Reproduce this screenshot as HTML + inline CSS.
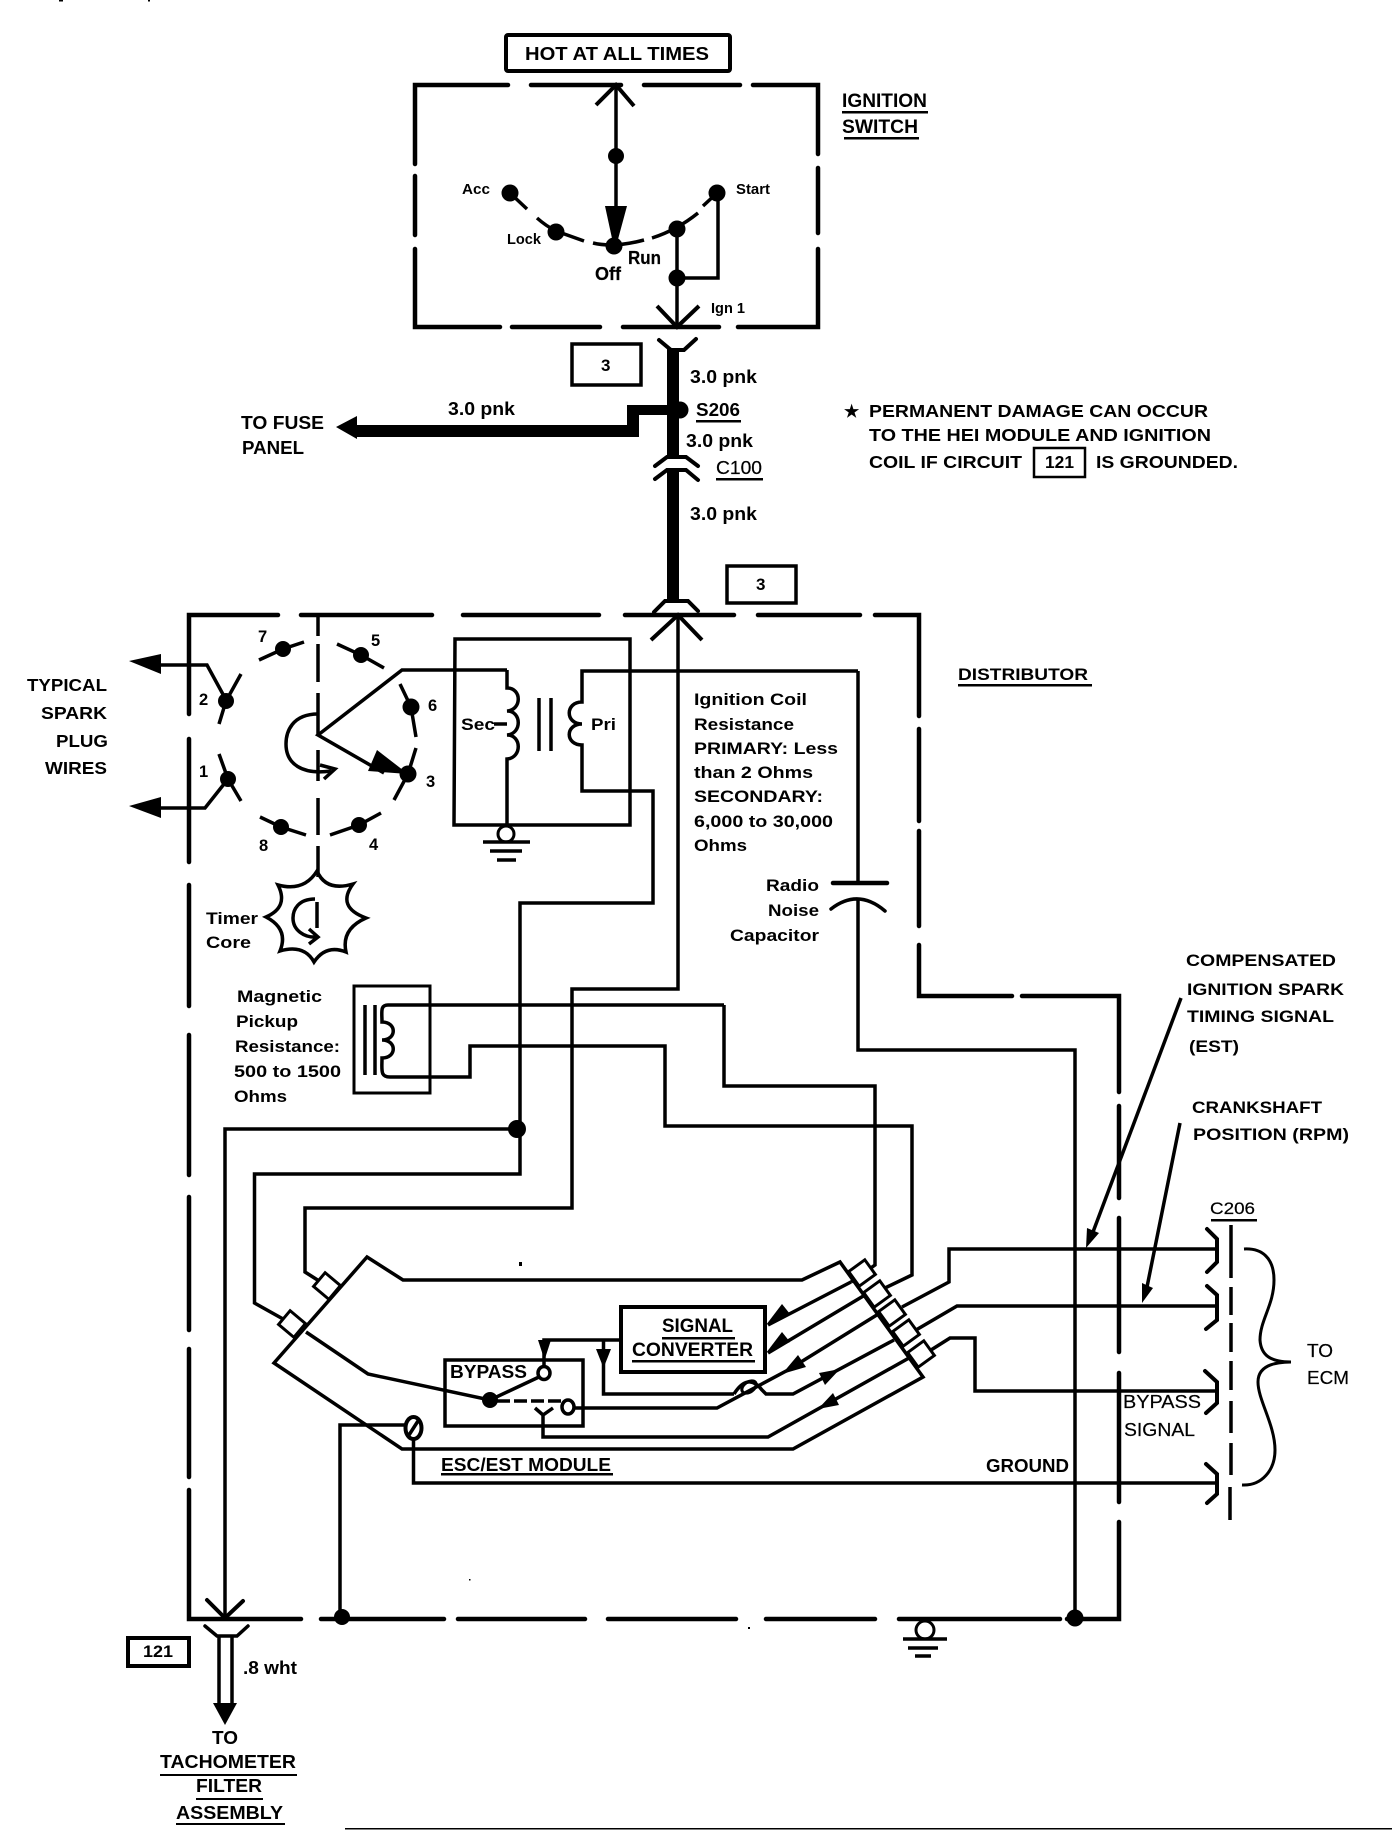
<!DOCTYPE html>
<html><head><meta charset="utf-8"><style>
html,body{margin:0;padding:0;background:#fff;width:1392px;height:1830px;overflow:hidden}
svg{display:block}
text{font-family:"Liberation Sans",sans-serif;font-weight:bold;fill:#000;font-size:17px}
.w{fill:none;stroke:#000;stroke-width:3.5;stroke-linejoin:miter}
.b{fill:none;stroke:#000;stroke-width:4.5;stroke-linecap:round}
.f{fill:#000;stroke:none}
</style></head><body>
<svg width="1392" height="1830" viewBox="0 0 1392 1830" xmlns="http://www.w3.org/2000/svg">
<rect width="1392" height="1830" fill="#fff"/>

<!-- Top -->
<rect x="506" y="35" width="224" height="36" rx="2" fill="none" stroke="#000" stroke-width="4"/>
<text x="525" y="60" textLength="184" lengthAdjust="spacingAndGlyphs" style="font-size:18.5px">HOT AT ALL TIMES</text>

<!-- Ignition switch box -->
<path class="b" d="M508 85H415V164M415 176V235M415 249V327H500M512 327H600M623 327H719M738 327H818V249M818 233V168M818 154V85H753M740 85H644M621 85H531"/>
<path class="w" style="stroke-width:4" d="M596 105L616 85L634 106"/>
<path class="w" d="M616 85V240"/>
<circle cx="616" cy="156" r="8" class="f"/>
<path class="f" d="M605 206H627L617 243H613Z"/>
<circle cx="614" cy="246" r="8.5" class="f"/>
<circle cx="510" cy="193" r="8.5" class="f"/>
<circle cx="556" cy="232" r="8.5" class="f"/>
<circle cx="677" cy="229" r="8.5" class="f"/>
<circle cx="717" cy="193" r="8.5" class="f"/>
<circle cx="677" cy="278" r="8.5" class="f"/>
<path class="w" d="M510 193L527 209M537 218Q546 226 556 231L584 241M593 243Q614 248 644 240M652 238Q677 230 698 213M703 206L717 193"/>
<path class="w" d="M677 229V327M677 278H718V198"/>
<path class="w" style="stroke-width:4" d="M657 306L677 327L699 306"/>
<text x="462" y="194" textLength="28" lengthAdjust="spacingAndGlyphs" style="font-size:14.5px">Acc</text>
<text x="736" y="194" textLength="34" lengthAdjust="spacingAndGlyphs" style="font-size:14.5px">Start</text>
<text x="507" y="244" textLength="34" lengthAdjust="spacingAndGlyphs" style="font-size:14.5px">Lock</text>
<text x="628" y="264" textLength="33" lengthAdjust="spacingAndGlyphs" style="font-size:18px;stroke:#000;stroke-width:.2">Run</text>
<text x="595" y="280" textLength="26" lengthAdjust="spacingAndGlyphs" style="font-size:18px;stroke:#000;stroke-width:.2">Off</text>
<text x="711" y="313" textLength="34" lengthAdjust="spacingAndGlyphs" style="font-size:14.5px">Ign 1</text>
<text x="842" y="107" textLength="85" lengthAdjust="spacingAndGlyphs" style="font-size:19px">IGNITION</text>
<rect x="842" y="111" width="86" height="2.5" class="f"/>
<text x="842" y="133" textLength="76" lengthAdjust="spacingAndGlyphs" style="font-size:19px">SWITCH</text>
<rect x="844" y="137" width="75" height="2.5" class="f"/>

<!-- Thick feed -->
<path class="w" style="stroke-width:4;stroke-linecap:round" d="M659 340L671 350H684L696 339M655 466L667 457H686L698 466M655 479L667 470H686L698 480M654 612L665 601H688L698 611"/>
<rect x="667" y="349" width="12" height="108" class="f"/>
<rect x="667" y="470" width="12" height="131" class="f"/>
<circle cx="680" cy="410" r="8.5" class="f"/>
<path class="f" d="M672 405V415H639V437H357V425H627V405Z"/>
<path class="f" d="M336 427L357 416V439Z"/>
<rect x="572" y="344" width="69" height="41" fill="none" stroke="#000" stroke-width="3.5"/>
<text x="601" y="371" style="font-size:17px">3</text>
<rect x="727" y="566" width="69" height="37" fill="none" stroke="#000" stroke-width="3.5"/>
<text x="756" y="590" style="font-size:17px">3</text>
<text x="690" y="383" textLength="67" lengthAdjust="spacingAndGlyphs" style="font-size:18px">3.0 pnk</text>
<text x="448" y="415" textLength="67" lengthAdjust="spacingAndGlyphs" style="font-size:18px">3.0 pnk</text>
<text x="686" y="447" textLength="67" lengthAdjust="spacingAndGlyphs" style="font-size:18px">3.0 pnk</text>
<text x="690" y="520" textLength="67" lengthAdjust="spacingAndGlyphs" style="font-size:18px">3.0 pnk</text>
<text x="696" y="416" textLength="44" lengthAdjust="spacingAndGlyphs" style="font-size:18px">S206</text>
<rect x="696" y="420" width="45" height="2.5" class="f"/>
<text x="716" y="474" textLength="46" lengthAdjust="spacingAndGlyphs" style="font-size:18px;stroke:#000;stroke-width:.2;font-weight:normal">C100</text>
<rect x="716" y="478" width="47" height="2.5" class="f"/>
<text x="241" y="429" textLength="83" lengthAdjust="spacingAndGlyphs" style="font-size:18px">TO FUSE</text>
<text x="242" y="454" textLength="62" lengthAdjust="spacingAndGlyphs" style="font-size:18px">PANEL</text>

<!-- Note -->
<text x="844" y="417" style="font-size:17px">★</text>
<text x="869" y="417" textLength="339" lengthAdjust="spacingAndGlyphs" style="font-size:17.5px">PERMANENT DAMAGE CAN OCCUR</text>
<text x="869" y="441" textLength="342" lengthAdjust="spacingAndGlyphs" style="font-size:17.5px">TO THE HEI MODULE AND IGNITION</text>
<text x="869" y="468" textLength="153" lengthAdjust="spacingAndGlyphs" style="font-size:17.5px">COIL IF CIRCUIT</text>
<rect x="1034" y="448" width="51" height="29" fill="none" stroke="#000" stroke-width="2.5"/>
<text x="1045" y="468" textLength="29" lengthAdjust="spacingAndGlyphs" style="font-size:17.5px">121</text>
<text x="1096" y="468" textLength="142" lengthAdjust="spacingAndGlyphs" style="font-size:17.5px">IS GROUNDED.</text>

<!-- Distributor box -->
<path class="b" d="M278 615H189V714M189 739V862M189 885V1006M189 1035V1175M189 1197V1330M189 1349V1477M189 1490V1619H301M321 1619H444M458 1619H585M608 1619H736M766 1619H875M899 1619H1060M1067 1619H1119V1522M1119 1502V1373M1119 1352V1218M1119 1198V1106M1119 1092V996H1022M1012 996H919V945M919 926V831M919 821V729M919 716V615H875M860 615H758M734 615H625M599 615H463M432 615H301"/>
<text x="958" y="680" textLength="130" lengthAdjust="spacingAndGlyphs" style="font-size:17px">DISTRIBUTOR</text>
<rect x="958" y="684" width="134" height="2.5" class="f"/>

<!-- Spark plugs -->
<path class="f" d="M129 661L161 654V674Z"/>
<path class="f" d="M129 806L161 797V818Z"/>
<path class="w" d="M155 665H207L225 698M155 808H205L228 779"/>
<path class="w" d="M241 674L226 701L219 724M219 754L228 779L241 801"/>
<circle cx="226" cy="701" r="8" class="f"/>
<circle cx="228" cy="779" r="8" class="f"/>
<text x="199" y="705" style="font-size:16.5px">2</text>
<text x="199" y="777" style="font-size:16.5px">1</text>
<text x="27" y="691" textLength="80" lengthAdjust="spacingAndGlyphs" style="font-size:17.5px">TYPICAL</text>
<text x="41" y="719" textLength="66" lengthAdjust="spacingAndGlyphs" style="font-size:17.5px">SPARK</text>
<text x="56" y="747" textLength="52" lengthAdjust="spacingAndGlyphs" style="font-size:17.5px">PLUG</text>
<text x="45" y="774" textLength="62" lengthAdjust="spacingAndGlyphs" style="font-size:17.5px">WIRES</text>

<!-- Rotor -->
<path class="w" d="M318 615V636M318 644V682M318 693V735M318 750V781M318 798V835M318 846V877"/>
<path class="w" d="M507 670H402L318 735L384 773"/>
<path class="f" d="M408 774L377 750L368 771Z"/>
<path class="w" d="M318 714C292 714 286 732 286 744C286 764 302 775 331 771M320 765L335 769L324 779"/>
<circle cx="408" cy="774" r="8.5" class="f"/>
<circle cx="411" cy="707" r="8.5" class="f"/>
<circle cx="361" cy="655" r="8" class="f"/>
<circle cx="283" cy="649" r="8" class="f"/>
<circle cx="281" cy="827" r="8" class="f"/>
<circle cx="359" cy="825" r="8" class="f"/>
<path class="w" d="M416 748L408 774L394 800M400 684L411 707L416 737M337 644L361 655L384 668M304 642L283 649L259 660M260 817L281 827L306 835M330 835L359 825L381 813"/>
<text x="426" y="787" style="font-size:16.5px">3</text>
<text x="428" y="711" style="font-size:16.5px">6</text>
<text x="371" y="646" style="font-size:16.5px">5</text>
<text x="258" y="642" style="font-size:16.5px">7</text>
<text x="259" y="851" style="font-size:16.5px">8</text>
<text x="369" y="850" style="font-size:16.5px">4</text>

<!-- Timer core -->
<path class="w" d="M317 871Q326 892 353 884Q336 907 366 918Q341 929 346 952Q326 944 314 962Q304 944 280 951Q289 929 266 917Q289 907 278 885Q304 892 317 871Z"/>
<path class="w" d="M317 902V928"/>
<path class="w" d="M315 899C298 899 293 910 293 918C293 930 304 938 317 937M309 929L318 937L309 944"/>
<text x="206" y="924" textLength="52" lengthAdjust="spacingAndGlyphs">Timer</text>
<text x="206" y="948" textLength="45" lengthAdjust="spacingAndGlyphs">Core</text>

<!-- Coil -->
<path class="w" d="M455 639H630V825H454Z"/>
<path class="w" d="M507 670V688C522 688 522 710 507 711C522 711 522 734 507 735C522 735 522 758 507 759V825M494 724H507"/>
<path class="w" d="M539 698V751M551 698V751"/>
<path class="w" d="M858 671H582V702C565 702 565 724 582 724C565 724 565 745 582 745V791H653V903H520V1174H254.500V1303L292 1324"/>
<circle cx="506" cy="834" r="8" fill="#fff" stroke="#000" stroke-width="3"/>
<path class="w" d="M483 842H530M490 851H522M497 860H516"/>
<text x="461" y="730" textLength="34" lengthAdjust="spacingAndGlyphs">Sec</text>
<text x="591" y="730" textLength="25" lengthAdjust="spacingAndGlyphs">Pri</text>

<!-- Coil text -->
<text x="694" y="705" textLength="113" lengthAdjust="spacingAndGlyphs">Ignition Coil</text>
<text x="694" y="730" textLength="100" lengthAdjust="spacingAndGlyphs">Resistance</text>
<text x="694" y="754" textLength="144" lengthAdjust="spacingAndGlyphs">PRIMARY: Less</text>
<text x="694" y="778" textLength="119" lengthAdjust="spacingAndGlyphs">than 2 Ohms</text>
<text x="694" y="802" textLength="129" lengthAdjust="spacingAndGlyphs">SECONDARY:</text>
<text x="694" y="827" textLength="139" lengthAdjust="spacingAndGlyphs">6,000 to 30,000</text>
<text x="694" y="851" textLength="53" lengthAdjust="spacingAndGlyphs">Ohms</text>
<text x="766" y="891" textLength="53" lengthAdjust="spacingAndGlyphs">Radio</text>
<text x="768" y="916" textLength="51" lengthAdjust="spacingAndGlyphs">Noise</text>
<text x="730" y="941" textLength="89" lengthAdjust="spacingAndGlyphs">Capacitor</text>

<!-- Capacitor -->
<path class="w" d="M858 671V883"/>
<path class="b" d="M833 883H887"/>
<path class="w" style="stroke-linecap:round" d="M831 909Q858 888 885 911"/>
<path class="w" d="M858 899V1050H1075V1619"/>
<circle cx="1075" cy="1618" r="8.500" class="f"/>

<!-- Main feed into distributor -->
<path class="w" style="stroke-width:4" d="M651 640L678 615L702 640"/>
<path class="w" d="M678 615V989H572V1208H305V1272L327 1286"/>
<circle cx="517" cy="1129" r="9" class="f"/>
<path class="w" d="M225 1618V1129H517"/>
<path class="w" style="stroke-width:4;stroke-linecap:round" d="M207 1600L225 1618L243 1601"/>

<!-- Pickup -->
<rect x="354" y="986" width="76" height="107" fill="none" stroke="#000" stroke-width="3"/>
<path class="w" d="M365 1005V1075M375 1005V1075"/>
<path class="w" d="M724 1005H388C380 1005 382 1012 382 1022C397 1022 397 1040 382 1040C397 1040 397 1058 382 1058C382 1070 380 1077 390 1077H470V1046H665V1126H912V1275L885 1288"/>
<path class="w" d="M724 1005V1086H875V1265L851 1282"/>
<text x="237" y="1002" textLength="85" lengthAdjust="spacingAndGlyphs">Magnetic</text>
<text x="236" y="1027" textLength="62" lengthAdjust="spacingAndGlyphs">Pickup</text>
<text x="235" y="1052" textLength="105" lengthAdjust="spacingAndGlyphs">Resistance:</text>
<text x="234" y="1077" textLength="107" lengthAdjust="spacingAndGlyphs">500 to 1500</text>
<text x="234" y="1102" textLength="53" lengthAdjust="spacingAndGlyphs">Ohms</text>

<!-- Module -->
<path class="w" d="M367 1257L403 1280H802L840 1262L923 1377L793 1449H402L274 1363Z"/>
<g fill="#fff" stroke="#000" stroke-width="3">
<rect x="-10" y="-9" width="20" height="18" transform="translate(327 1286) rotate(40)"/>
<rect x="-10" y="-9" width="20" height="18" transform="translate(292 1324) rotate(40)"/>
<rect x="-10" y="-9" width="20" height="18" transform="translate(862 1273) rotate(-36)"/>
<rect x="-10" y="-9" width="20" height="18" transform="translate(877 1294) rotate(-36)"/>
<rect x="-10" y="-9" width="20" height="18" transform="translate(892 1313) rotate(-36)"/>
<rect x="-10" y="-9" width="20" height="18" transform="translate(906 1333) rotate(-36)"/>
<rect x="-10" y="-9" width="20" height="18" transform="translate(921 1354) rotate(-36)"/>
</g>
<path class="w" d="M851 1282L768 1325M865 1295L768 1353"/>
<path class="f" d="M766 1325L782 1304L790 1314Z"/>
<path class="f" d="M766 1353L782 1332L790 1342Z"/>

<!-- Outer wires -->
<path class="w" d="M902 1307L949 1282V1249H1217"/>
<path class="w" d="M916 1330L957 1306H1217"/>
<path class="w" d="M931 1350L950 1338H975V1391H1217"/>
<path class="w" d="M413.500 1440V1483H1217"/>
<path class="w" d="M413 1425H340V1619"/>
<circle cx="342" cy="1617" r="8" class="f"/>

<!-- Signal converter -->
<rect x="621" y="1307" width="144" height="65" fill="#fff" stroke="#000" stroke-width="4"/>
<text x="662" y="1332" textLength="71" lengthAdjust="spacingAndGlyphs" style="font-size:19px">SIGNAL</text>
<rect x="662" y="1337" width="73" height="2.500" class="f"/>
<text x="632" y="1356" textLength="121" lengthAdjust="spacingAndGlyphs" style="font-size:19px">CONVERTER</text>
<rect x="632" y="1360" width="123" height="2.500" class="f"/>

<!-- Bypass -->
<rect x="445" y="1360" width="138" height="66" fill="none" stroke="#000" stroke-width="3.500"/>
<text x="450" y="1378" textLength="77" lengthAdjust="spacingAndGlyphs" style="font-size:18px">BYPASS</text>
<path class="w" d="M620 1340H544V1367"/>
<path class="f" d="M538 1340H551L544.500 1360Z"/>
<path class="w" d="M603.500 1340V1394H734"/>
<path class="f" d="M596 1349H611L603.500 1368Z"/>
<path class="w" d="M734 1394Q748 1372 762 1390L766 1394H793L894 1340"/>
<path class="w" d="M880 1313L788 1370L717 1408H575"/>
<ellipse cx="749" cy="1387" rx="8" ry="5" fill="none" stroke="#000" stroke-width="3" transform="rotate(-35 749 1387)"/>
<path class="f" d="M782 1374L798 1355L806 1367Z"/>
<path class="f" d="M840 1369L819 1373L825 1385Z"/>
<path class="w" d="M909 1358L768 1437H543V1415M535 1408L543 1415L553 1408"/>
<path class="f" d="M818 1409L833 1393L839 1405Z"/>
<path class="w" d="M306 1332L368 1374L490 1400"/>
<circle cx="490" cy="1400" r="8" class="f"/>
<path class="w" d="M490 1400L539 1377"/>
<ellipse cx="544" cy="1373" rx="6" ry="6.500" fill="#fff" stroke="#000" stroke-width="3.500"/>
<ellipse cx="568" cy="1407" rx="6" ry="7" fill="#fff" stroke="#000" stroke-width="3.500"/>
<path class="w" stroke-dasharray="13 4" d="M497 1401H561"/>

<!-- Ground screw -->
<ellipse cx="413.500" cy="1428" rx="8" ry="11" fill="#fff" stroke="#000" stroke-width="4"/>
<path class="w" d="M409 1435L418 1421"/>
<text x="441" y="1471" textLength="170" lengthAdjust="spacingAndGlyphs" style="font-size:18px">ESC/EST MODULE</text>
<rect x="441" y="1473" width="172" height="2.500" class="f"/>

<!-- Bottom ground symbol -->
<circle cx="925" cy="1630" r="9" fill="#fff" stroke="#000" stroke-width="3"/>
<path class="w" d="M903 1639H947M908 1648H938M915 1656H931"/>

<!-- Right side -->
<path class="w" d="M1181 998L1090 1240"/>
<path class="f" d="M1086 1248L1087 1228L1099 1233Z"/>
<path class="w" d="M1180 1123L1146 1292"/>
<path class="f" d="M1142 1303L1142 1283L1153 1288Z"/>
<text x="1186" y="966" textLength="150" lengthAdjust="spacingAndGlyphs">COMPENSATED</text>
<text x="1187" y="995" textLength="157" lengthAdjust="spacingAndGlyphs">IGNITION SPARK</text>
<text x="1187" y="1022" textLength="147" lengthAdjust="spacingAndGlyphs">TIMING SIGNAL</text>
<text x="1189" y="1052" textLength="50" lengthAdjust="spacingAndGlyphs">(EST)</text>
<text x="1192" y="1113" textLength="130" lengthAdjust="spacingAndGlyphs">CRANKSHAFT</text>
<text x="1193" y="1140" textLength="156" lengthAdjust="spacingAndGlyphs">POSITION (RPM)</text>
<text x="1210" y="1214" textLength="45" lengthAdjust="spacingAndGlyphs" style="font-size:17px;font-weight:normal;stroke:#000;stroke-width:.2">C206</text>
<rect x="1211" y="1219" width="46" height="2.500" class="f"/>
<path class="w" style="stroke-width:4;stroke-linecap:round" d="M1207 1229L1217 1239V1262L1207 1272M1207 1286L1217 1295V1320L1206 1329M1205 1371L1217 1382V1403L1206 1413M1206 1464L1217 1474V1494L1207 1503"/>
<path class="w" d="M1231 1225V1278M1231 1287V1315M1231 1323V1352M1231 1361V1390M1231 1401V1433M1231 1443V1475M1230 1487V1520"/>
<path class="w" style="stroke-width:3" d="M1244 1249C1262 1248 1274 1258 1274 1280C1274 1305 1260 1320 1260 1340C1261 1355 1270 1362 1291 1362M1291 1362C1270 1362 1258 1368 1258 1382C1258 1400 1275 1425 1275 1450C1275 1470 1262 1486 1242 1485"/>
<text x="1307" y="1357" textLength="26" lengthAdjust="spacingAndGlyphs" style="font-size:18px;font-weight:normal;stroke:#000;stroke-width:.2">TO</text>
<text x="1307" y="1384" textLength="42" lengthAdjust="spacingAndGlyphs" style="font-size:18px;font-weight:normal;stroke:#000;stroke-width:.2">ECM</text>
<text x="1123" y="1408" textLength="78" lengthAdjust="spacingAndGlyphs" style="font-size:18px;font-weight:normal;stroke:#000;stroke-width:.2">BYPASS</text>
<text x="1124" y="1436" textLength="71" lengthAdjust="spacingAndGlyphs" style="font-size:18px;font-weight:normal;stroke:#000;stroke-width:.2">SIGNAL</text>
<text x="986" y="1472" textLength="83" lengthAdjust="spacingAndGlyphs" style="font-size:18px">GROUND</text>

<!-- Bottom left -->
<rect x="128" y="1638" width="61" height="28" fill="none" stroke="#000" stroke-width="4"/>
<text x="143" y="1657" textLength="30" lengthAdjust="spacingAndGlyphs">121</text>
<path class="w" style="stroke-linecap:round" d="M205 1626L217 1636H237L248 1626"/>
<path class="w" d="M219 1636V1705M232 1636V1705"/>
<path class="f" d="M213 1703H237L225 1725Z"/>
<text x="243" y="1674" textLength="54" lengthAdjust="spacingAndGlyphs" style="font-size:18px">.8 wht</text>
<text x="212" y="1744" textLength="26" lengthAdjust="spacingAndGlyphs" style="font-size:18px">TO</text>
<text x="160" y="1768" textLength="136" lengthAdjust="spacingAndGlyphs" style="font-size:18px">TACHOMETER</text>
<rect x="160" y="1774" width="137" height="2" class="f"/>
<text x="196" y="1792" textLength="66" lengthAdjust="spacingAndGlyphs" style="font-size:18px">FILTER</text>
<rect x="196" y="1798" width="67" height="2" class="f"/>
<text x="176" y="1819" textLength="107" lengthAdjust="spacingAndGlyphs" style="font-size:18px">ASSEMBLY</text>
<rect x="176" y="1823" width="109" height="2" class="f"/>
<rect x="345" y="1828" width="1047" height="1.500" class="f"/>

<!-- Specks -->
<rect x="519" y="1262" width="3" height="4" class="f"/>
<rect x="469" y="1579" width="1.500" height="1.500" class="f"/>
<rect x="748" y="1627" width="2" height="2" class="f"/>
<rect x="59" y="0" width="4" height="1.500" class="f"/>
<rect x="148" y="0" width="2" height="1.500" class="f"/>
</svg>
</body></html>
